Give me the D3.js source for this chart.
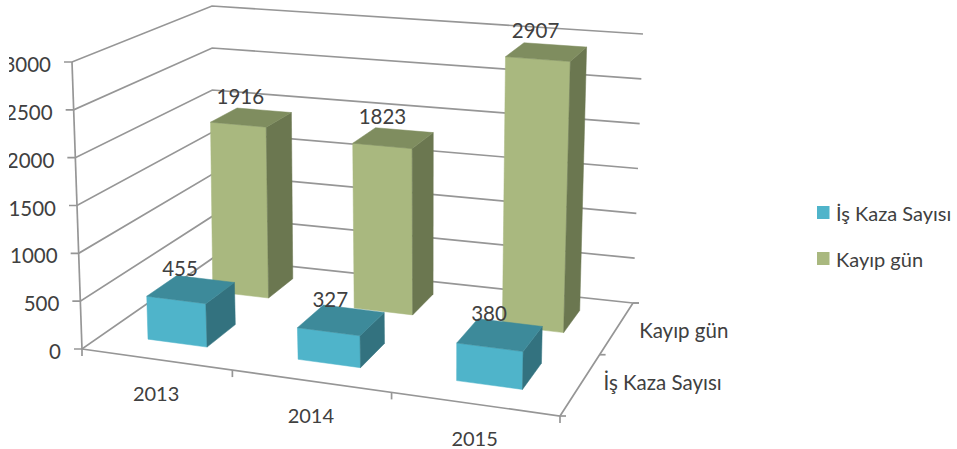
<!DOCTYPE html>
<html><head><meta charset="utf-8">
<script src="https://cdn.jsdelivr.net/npm/d3@7"></script>
<style>html,body{margin:0;padding:0;background:#fff}svg{display:block}text{font-family:Lato,sans-serif;fill:#404040}</style>
</head><body><svg id="c" width="957" height="449"></svg>
<script>
const years = ["2013","2014","2015"];
const seriesNames = ["İş Kaza Sayısı","Kayıp gün"];
const accidents = [455,327,380];
const lostDays = [1916,1823,2907];
const yMax = 3000;

const palette = {
  "İş Kaza Sayısı":{front:"#4fb4ca",top:"#3d8a9a",side:"#33727f"},
  "Kayıp gün":{front:"#a9b87f",top:"#7f8d5f",side:"#6b7750"}
};
const valuesBySeries = {"İş Kaza Sayısı":accidents,"Kayıp gün":lostDays};

// Picture plane: where the floor and the ceiling of the 3D box land
const floorQuad = [[82,349],[560,416],[633,303],[213,258]];
const ceilQuad  = [[72,62],[569,108],[643,34],[212,6]];

function quadMap(q){
  const [[x0,y0],[x1,y1],[x2,y2],[x3,y3]] = q;
  const dx1=x1-x2,dx2=x3-x2,sx=x0-x1+x2-x3,dy1=y1-y2,dy2=y3-y2,sy=y0-y1+y2-y3;
  const den=dx1*dy2-dx2*dy1;
  const g=(sx*dy2-dx2*sy)/den,h=(dx1*sy-sx*dy1)/den;
  const a=x1-x0+g*x1,b=x3-x0+h*x3,d=y1-y0+g*y1,e=y3-y0+h*y3;
  return (u,w)=>{const k=g*u+h*w+1;return [(a*u+b*w+x0)/k,(d*u+e*w+y0)/k];};
}
const floorAt=quadMap(floorQuad), ceilAt=quadMap(ceilQuad);
const warp=u=>u+.055*u*(1-u);

const xBand=d3.scaleBand().domain(years).range([0,1]).paddingInner(.6).paddingOuter(.3);
const zBand=d3.scaleBand().domain(seriesNames).range([.012,1.012]).paddingInner(.56).paddingOuter(.28);
const yFrac=d3.scaleLinear().domain([0,yMax]).range([0,1]);
const yTicks=yFrac.ticks(6);

function P(u,w,v){
  const a=floorAt(warp(u),w),b=ceilAt(warp(u),w),t=yFrac(v);
  return [a[0]+(b[0]-a[0])*t,a[1]+(b[1]-a[1])*t];
}
const svg=d3.select("#c");
svg.append("defs").append("clipPath").attr("id","clipLeft").append("rect")
  .attr("x",9).attr("y",0).attr("width",948).attr("height",449);
const line=d3.line();
const axisColor="#969696";
const grid=svg.append("g").attr("fill","none").attr("stroke",axisColor).attr("stroke-width",1.7);

yTicks.forEach(v=>{
  const pts=[P(0,0,v),P(0,1,v),P(1,1,v)];
  const end=P(1,1,v);
  pts.push([end[0]+(v===0?6:0),end[1]]);
  const a=P(0,0,v);
  pts.unshift([a[0]-8,a[1]]);
  grid.append("path").attr("d",line(pts));
});
grid.append("path").attr("d",line([P(0,0,0),P(0,0,yMax)]));
grid.append("path").attr("d",line([P(0,0,0),P(1,0,0),P(1,1,0)]));
d3.range(0,years.length+1).forEach(i=>{
  const a=P(i/years.length,0,0);
  grid.append("path").attr("d",line([a,[a[0],a[1]+7]]));
});
d3.range(0,seriesNames.length+1).forEach(i=>{
  const a=P(1,i/seriesNames.length,0);
  grid.append("path").attr("d",line([a,[a[0]+6,a[1]]]));
});

const bars=svg.append("g");
const labels=[];
seriesNames.slice().reverse().forEach(s=>{
  const c=palette[s];
  valuesBySeries[s].forEach((val,i)=>{
    const u0=xBand(years[i]),u1=u0+xBand.bandwidth();
    const w0=zBand(s),w1=w0+zBand.bandwidth();
    const poly=(pts,fill)=>bars.append("path").attr("d",line(pts)+"Z").attr("fill",fill).attr("stroke",fill).attr("stroke-width",.5);
    poly([P(u0,w0,0),P(u1,w0,0),P(u1,w0,val),P(u0,w0,val)],c.front);
    poly([P(u1,w0,0),P(u1,w1,0),P(u1,w1,val),P(u1,w0,val)],c.side);
    poly([P(u0,w0,val),P(u1,w0,val),P(u1,w1,val),P(u0,w1,val)],c.top);
    labels.push({val,at:P((u0+u1)/2,(w0+w1)/2,val)});
  });
});
svg.append("g").selectAll("text").data(labels).join("text")
  .attr("x",d=>d.at[0]-11).attr("y",d=>d.at[1]-21.5)
  .attr("text-anchor","middle").attr("dominant-baseline","central")
  .attr("font-size",20.5).text(d=>d.val);

svg.append("g").attr("clip-path","url(#clipLeft)").selectAll("text").data(yTicks).join("text")
  .attr("x",d=>P(0,0,d)[0]-21).attr("y",d=>P(0,0,d)[1]+2)
  .attr("text-anchor","end").attr("dominant-baseline","central")
  .attr("font-size",20.5).text(d=>d);

svg.append("g").selectAll("text").data(years).join("text")
  .attr("x",d=>P(xBand(d)+xBand.bandwidth()/2,0,0)[0])
  .attr("y",d=>P(xBand(d)+xBand.bandwidth()/2,0,0)[1]+33.5)
  .attr("text-anchor","middle").attr("dominant-baseline","central")
  .attr("font-size",20).text(d=>d);

svg.append("g").selectAll("text").data(seriesNames).join("text")
  .attr("x",d=>P(1,zBand(d)+zBand.bandwidth()/2,0)[0]+ (d===seriesNames[0]?81:66))
  .attr("y",d=>P(1,zBand(d)+zBand.bandwidth()/2,0)[1]+ (d===seriesNames[0]?-1:3))
  .attr("text-anchor","middle").attr("dominant-baseline","central")
  .attr("font-size",20.5).text(d=>d);

const lg=svg.append("g").selectAll("g").data(seriesNames).join("g")
  .attr("transform",(d,i)=>`translate(817,${206+i*46})`);
lg.append("rect").attr("width",12.5).attr("height",13).attr("fill",d=>palette[d].front);
lg.append("text").attr("x",19).attr("y",7).attr("dominant-baseline","central")
  .attr("font-size",20).text(d=>d);
</script></body></html>
